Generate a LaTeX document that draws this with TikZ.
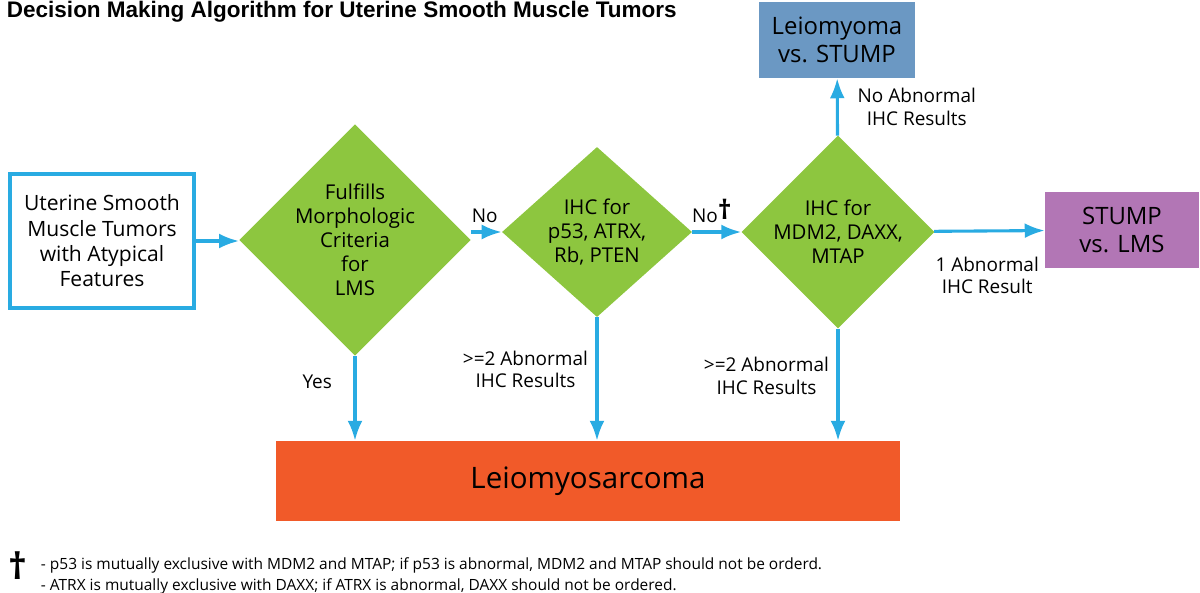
\documentclass[tikz,border=0pt]{standalone}
\usepackage{fontspec}
\setmainfont{Open Sans}
\newfontfamily\titlefont{Liberation Sans}
\usetikzlibrary{shapes.geometric,arrows.meta,positioning}
\definecolor{arrowblue}{HTML}{29ABE2}
\definecolor{leafgreen}{HTML}{8DC63F}
\definecolor{steel}{HTML}{6B98C3}
\definecolor{plum}{HTML}{B276B5}
\definecolor{lmsorange}{HTML}{F15A29}
\tikzset{>={Latex[scale=1.1]}}

\begin{document}
\begin{tikzpicture}[x=0.025cm, y=-0.025cm,
    decision/.style={diamond, fill=leafgreen, minimum width=4.75cm, minimum height=4.25cm,
        inner sep=0pt, align=center, font=\fontsize{14.5}{17}\selectfont},
    outcome/.style={align=center, font=\fontsize{17}{20}\selectfont},
    flow/.style={->, arrowblue, line width=2.2pt},
    lbl/.style={align=center, text=black, font=\fontsize{13.5}{16}\selectfont}]
    \useasboundingbox (0,0) rectangle (1200,592);
    \node[anchor=west, font=\titlefont\bfseries\fontsize{16}{18}\selectfont] (title) at (2,12)
        {Decision Making Algorithm for Uterine Smooth Muscle Tumors};
    \node[draw=arrowblue, line width=3pt, fill=white, minimum width=4.6cm, minimum height=3.35cm,
        align=center, font=\fontsize{15}{18}\selectfont] (start) at (102,241)
        {Uterine Smooth\\Muscle Tumors\\with Atypical\\Features};
    \node[decision] (morph) at (355,240) {Fulfills\\Morphologic\\Criteria\\for\\LMS};
    \node[decision] (ihc1) at (597,232) {IHC for\\p53, ATRX,\\Rb, PTEN};
    \node[decision] (ihc2) at (838,232) {IHC for\\MDM2, DAXX,\\MTAP};
    \node[outcome, fill=steel, minimum width=3.9cm, minimum height=1.9cm] (benign) at (837,40)
        {Leiomyoma\\vs. STUMP};
    \node[outcome, fill=plum, minimum width=3.85cm, minimum height=1.9cm] (stump) at (1122,230)
        {STUMP\\vs. LMS};
    \node[fill=lmsorange, minimum width=15.6cm, minimum height=2cm,
        font=\fontsize{21}{24}\selectfont] (lms) at (588,481) {Leiomyosarcoma};
    % arrows
    \draw[flow] (start) -- (start -| morph.west);
    \draw[flow] (morph.east |- ihc1) -- node[lbl, above=2pt, pos=0.45] {No} (ihc1);
    \draw[flow] (ihc1.east) -- node[lbl, above=2pt, pos=0.4] {No\raisebox{2pt}{\fontsize{19}{19}\selectfont\bfseries †}} (ihc2.west);
    \draw[flow] (ihc2) -- node[lbl, right=10pt] {No Abnormal\\IHC Results} (benign);
    \draw[flow] (ihc2) -- node[lbl, below=14pt, pos=0.48] {1 Abnormal\\IHC Result} (stump);
    \draw[flow] (morph.south) -- node[lbl, left=12pt, pos=0.3] {Yes} (morph.south |- lms.north);
    \draw[flow] (ihc1.south) -- node[lbl, left=2pt, pos=0.42] {>=2 Abnormal\\IHC Results} (ihc1.south |- lms.north);
    \draw[flow] (ihc2.south) -- node[lbl, left=2pt, pos=0.42] {>=2 Abnormal\\IHC Results} (ihc2.south |- lms.north);
    % footnote
    \node[font=\fontsize{26}{26}\selectfont\bfseries] (dagger) at (18,566) {†};
    \node[anchor=north west, align=left, font=\fontsize{11}{15}\selectfont] (note) at (36,553)
        {- p53 is mutually exclusive with MDM2 and MTAP; if p53 is abnormal, MDM2 and MTAP should not be orderd.\\
         - ATRX is mutually exclusive with DAXX; if ATRX is abnormal, DAXX should not be ordered.};
\end{tikzpicture}
\end{document}
